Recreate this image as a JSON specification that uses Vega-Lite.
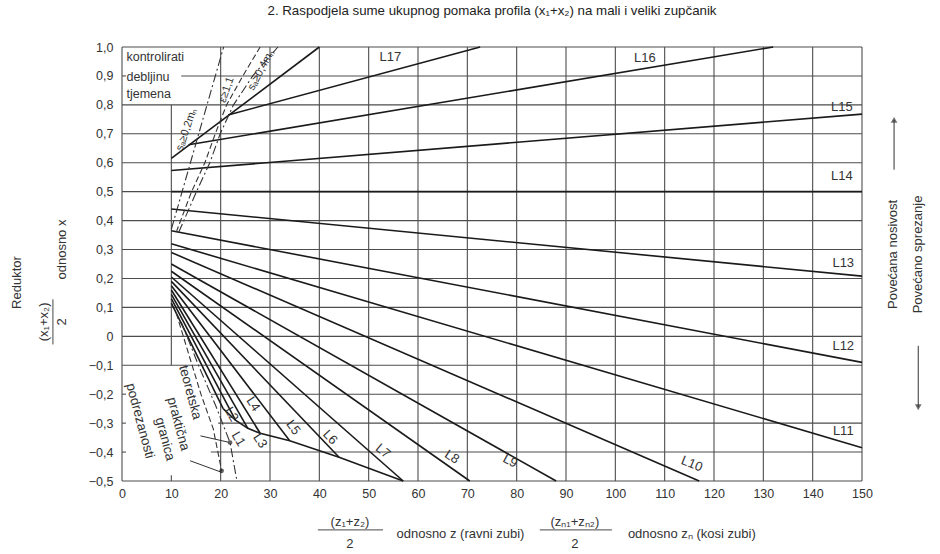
{
  "$schema": "https://vega.github.io/schema/vega-lite/v6.json",
  "width": 740,
  "height": 434,
  "autosize": {"type": "none"},
  "padding": {"left": 122, "top": 47, "right": 78, "bottom": 73},
  "background": "white",
  "config": {"view": {"stroke": null}, "text": {"font": "Liberation Sans", "color": "#333"}},
  "title": {"text": "2. Raspodjela sume ukupnog pomaka profila (x₁+x₂) na mali i veliki zupčanik", "font": "Liberation Sans", "fontSize": 13.3, "fontWeight": "normal", "color": "#222", "anchor": "middle", "offset": 24},
  "datasets": {
    "hgrid": [
      {"y": -0.5, "x": 0, "x2": 150},
      {"y": -0.4, "x": 18, "x2": 150}, {"y": -0.4, "x": 0, "x2": 0.8},
      {"y": -0.3, "x": 19.5, "x2": 150}, {"y": -0.3, "x": 0, "x2": 0.8},
      {"y": -0.2, "x": 18, "x2": 150}, {"y": -0.2, "x": 0, "x2": 0.8},
      {"y": -0.1, "x": 0, "x2": 150},
      {"y": 0, "x": 0, "x2": 150},
      {"y": 0.1, "x": 0, "x2": 150},
      {"y": 0.2, "x": 0, "x2": 150},
      {"y": 0.3, "x": 0, "x2": 150},
      {"y": 0.4, "x": 0, "x2": 150},
      {"y": 0.5, "x": 0, "x2": 150},
      {"y": 0.6, "x": 0, "x2": 150},
      {"y": 0.7, "x": 0, "x2": 150},
      {"y": 0.8, "x": 0, "x2": 150},
      {"y": 0.9, "x": 12, "x2": 150}, {"y": 0.9, "x": 0, "x2": 0.8},
      {"y": 1.0, "x": 0, "x2": 150}
    ],
    "vgrid": [
      {"x": 0, "y": -0.5, "y2": 1},
      {"x": 10, "y": -0.1, "y2": 0.8}, {"x": 10, "y": -0.5, "y2": -0.48},
      {"x": 20, "y": -0.5, "y2": 1},
      {"x": 30, "y": -0.5, "y2": 1},
      {"x": 40, "y": -0.5, "y2": 1},
      {"x": 50, "y": -0.5, "y2": 1},
      {"x": 60, "y": -0.5, "y2": 1},
      {"x": 70, "y": -0.5, "y2": 1},
      {"x": 80, "y": -0.5, "y2": 1},
      {"x": 90, "y": -0.5, "y2": 1},
      {"x": 100, "y": -0.5, "y2": 1},
      {"x": 110, "y": -0.5, "y2": 1},
      {"x": 120, "y": -0.5, "y2": 1},
      {"x": 130, "y": -0.5, "y2": 1},
      {"x": 140, "y": -0.5, "y2": 1},
      {"x": 150, "y": -0.5, "y2": 1}
    ],
    "solid": [
      {"id": "L1", "x": 10, "y": 0.115}, {"id": "L1", "x": 20.5, "y": -0.25},
      {"id": "L2", "x": 10, "y": 0.13}, {"id": "L2", "x": 23, "y": -0.29},
      {"id": "L3", "x": 10, "y": 0.145}, {"id": "L3", "x": 25.5, "y": -0.318},
      {"id": "L4", "x": 10, "y": 0.16}, {"id": "L4", "x": 28, "y": -0.335},
      {"id": "L5", "x": 10, "y": 0.175}, {"id": "L5", "x": 34, "y": -0.361},
      {"id": "L6", "x": 10, "y": 0.19}, {"id": "L6", "x": 44, "y": -0.418},
      {"id": "L7", "x": 10, "y": 0.205}, {"id": "L7", "x": 57, "y": -0.5},
      {"id": "L8", "x": 10, "y": 0.225}, {"id": "L8", "x": 70.5, "y": -0.5},
      {"id": "L9", "x": 10, "y": 0.25}, {"id": "L9", "x": 88, "y": -0.5},
      {"id": "L10", "x": 10, "y": 0.29}, {"id": "L10", "x": 117, "y": -0.5},
      {"id": "L11", "x": 10, "y": 0.32}, {"id": "L11", "x": 150, "y": -0.385},
      {"id": "L12", "x": 10, "y": 0.365}, {"id": "L12", "x": 150, "y": -0.09},
      {"id": "L13", "x": 10, "y": 0.44}, {"id": "L13", "x": 150, "y": 0.208},
      {"id": "L14", "x": 10, "y": 0.5}, {"id": "L14", "x": 150, "y": 0.5},
      {"id": "L15", "x": 10, "y": 0.573}, {"id": "L15", "x": 150, "y": 0.768},
      {"id": "L16", "x": 13.5, "y": 0.662}, {"id": "L16", "x": 132, "y": 1.0},
      {"id": "L17", "x": 21.5, "y": 0.765}, {"id": "L17", "x": 72.6, "y": 1.0},
      {"id": "K", "x": 10, "y": 0.615}, {"id": "K", "x": 40, "y": 1.0},
      {"id": "E", "x": 20.5, "y": -0.25}, {"id": "E", "x": 23, "y": -0.29},
      {"id": "E", "x": 25.5, "y": -0.318}, {"id": "E", "x": 28, "y": -0.335},
      {"id": "E", "x": 34, "y": -0.361}, {"id": "E", "x": 44, "y": -0.418},
      {"id": "E", "x": 57, "y": -0.5}
    ],
    "dashed": [
      {"id": "eps", "x": 11, "y": 0.36}, {"id": "eps", "x": 14.1, "y": 0.5},
      {"id": "eps", "x": 16.8, "y": 0.6}, {"id": "eps", "x": 18.9, "y": 0.7},
      {"id": "eps", "x": 21.2, "y": 0.8}, {"id": "eps", "x": 24.5, "y": 0.9},
      {"id": "eps", "x": 28, "y": 1.0},
      {"id": "teor", "x": 11, "y": 0.08}, {"id": "teor", "x": 13.5, "y": -0.06},
      {"id": "teor", "x": 16, "y": -0.2}, {"id": "teor", "x": 18.5, "y": -0.32},
      {"id": "teor", "x": 20.2, "y": -0.465}
    ],
    "dashdot": [
      {"id": "s02", "x": 10, "y": 0.37}, {"id": "s02", "x": 20.6, "y": 1.0},
      {"id": "s04", "x": 11.5, "y": 0.36}, {"id": "s04", "x": 15.1, "y": 0.5},
      {"id": "s04", "x": 17.8, "y": 0.6}, {"id": "s04", "x": 19.9, "y": 0.7},
      {"id": "s04", "x": 22.6, "y": 0.8}, {"id": "s04", "x": 26.5, "y": 0.9},
      {"id": "s04", "x": 31.6, "y": 1.0},
      {"id": "prakt", "x": 12, "y": 0.05}, {"id": "prakt", "x": 15.5, "y": -0.1},
      {"id": "prakt", "x": 19, "y": -0.24}, {"id": "prakt", "x": 21.9, "y": -0.367},
      {"id": "prakt", "x": 23.3, "y": -0.5}
    ],
    "leaders": [
      {"x": 15.9, "y": -0.344, "x2": 21.6, "y2": -0.366},
      {"x": 13.8, "y": -0.43, "x2": 20.2, "y2": -0.47}
    ],
    "dots": [
      {"x": 21.9, "y": -0.367},
      {"x": 20.2, "y": -0.465}
    ],
    "hbars": [
      {"x": 39.7, "x2": 52.9, "y": -0.669},
      {"x": 84.7, "x2": 99.3, "y": -0.669}
    ],
    "vbars": [
      {"x": -14, "y": -0.028, "y2": 0.128}
    ],
    "arrowUp": [{"x": 156.5, "y": 0.576, "y2": 0.748}],
    "arrowDown": [{"x": 161.4, "y": -0.033, "y2": -0.245}],
    "lineLabels": [
      {"label": "L17", "x": 54.4, "y": 0.967},
      {"label": "L16", "x": 106, "y": 0.961},
      {"label": "L15", "x": 145.9, "y": 0.794},
      {"label": "L14", "x": 145.9, "y": 0.553},
      {"label": "L13", "x": 146.2, "y": 0.254},
      {"label": "L12", "x": 146.2, "y": -0.033},
      {"label": "L11", "x": 146.2, "y": -0.327},
      {"label": "L10", "x": 115.5, "y": -0.441},
      {"label": "L9", "x": 78.7, "y": -0.431},
      {"label": "L8", "x": 66.9, "y": -0.417},
      {"label": "L7", "x": 52.9, "y": -0.397},
      {"label": "L6", "x": 42.2, "y": -0.349},
      {"label": "L5", "x": 34.7, "y": -0.315},
      {"label": "L4", "x": 26.6, "y": -0.234},
      {"label": "L3", "x": 28, "y": -0.361},
      {"label": "L2", "x": 22.2, "y": -0.269},
      {"label": "L1", "x": 23.6, "y": -0.355}
    ],
    "boxText": [
      {"label": "kontrolirati", "x": 0.9, "y": 0.967},
      {"label": "debljinu", "x": 0.9, "y": 0.898},
      {"label": "tjemena", "x": 0.9, "y": 0.838}
    ],
    "flatText": [
      {"label": "(z₁+z₂)", "x": 46.2, "y": -0.642},
      {"label": "2", "x": 46.2, "y": -0.717},
      {"label": "odnosno z (ravni zubi)", "x": 68.6, "y": -0.683},
      {"label": "(zₙ₁+zₙ₂)", "x": 91.8, "y": -0.642},
      {"label": "2", "x": 91.8, "y": -0.717},
      {"label": "odnosno zₙ (kosi zubi)", "x": 115.5, "y": -0.683}
    ],
    "vertText": [
      {"label": "Reduktor", "x": -21.3, "y": 0.186},
      {"label": "(x₁+x₂)", "x": -15.8, "y": 0.05},
      {"label": "2", "x": -12.2, "y": 0.05},
      {"label": "odnosno x", "x": -12.2, "y": 0.3},
      {"label": "Povećana nosivost", "x": 156.3, "y": 0.283},
      {"label": "Povećano sprezanje", "x": 161.4, "y": 0.283}
    ],
    "limitText": [
      {"label": "sₐ≥0,2mₙ", "x": 13.1, "y": 0.714},
      {"label": "ε≥1,1", "x": 21.2, "y": 0.852},
      {"label": "sₐ≥0,4mₙ", "x": 28.2, "y": 0.92}
    ],
    "underText": [
      {"label": "teoretska", "x": 13.8, "y": -0.194},
      {"label": "praktična", "x": 11.4, "y": -0.303},
      {"label": "granica", "x": 8.7, "y": -0.355},
      {"label": "podrezanosti", "x": 3.65, "y": -0.292}
    ]
  },
  "encoding": {
    "x": {"field": "x", "type": "quantitative",
      "scale": {"domain": [0, 150], "nice": false, "zero": false},
      "axis": {"values": [0,10,20,30,40,50,60,70,80,90,100,110,120,130,140,150], "title": null, "ticks": false, "domain": false, "grid": false, "labelFlush": false, "labelPadding": 6, "labelFontSize": 12.5, "labelFont": "Liberation Sans", "labelColor": "#333"}},
    "y": {"field": "y", "type": "quantitative",
      "scale": {"domain": [-0.5, 1.0], "nice": false, "zero": false},
      "axis": {"values": [-0.5,-0.4,-0.3,-0.2,-0.1,0,0.1,0.2,0.3,0.4,0.5,0.6,0.7,0.8,0.9,1.0], "title": null, "ticks": false, "domain": false, "grid": false, "labelFlush": false, "labelPadding": 9, "labelFontSize": 12.5, "labelFont": "Liberation Sans", "labelColor": "#333",
        "labelExpr": "datum.value == 0 ? '0' : replace(format(datum.value, '.1f'), '.', ',')"}}
  },
  "layer": [
    {"data": {"name": "hgrid"}, "mark": {"type": "rule", "stroke": "#4d4d4d", "strokeWidth": 1.1}, "encoding": {"x2": {"field": "x2"}}},
    {"data": {"name": "vgrid"}, "mark": {"type": "rule", "stroke": "#4d4d4d", "strokeWidth": 1.1}, "encoding": {"y2": {"field": "y2"}}},
    {"data": {"name": "solid"}, "mark": {"type": "line", "stroke": "#1a1a1a", "strokeWidth": 1.6}, "encoding": {"detail": {"field": "id"}}},
    {"data": {"name": "dashed"}, "mark": {"type": "line", "stroke": "#333", "strokeWidth": 1.1, "strokeDash": [6, 3]}, "encoding": {"detail": {"field": "id"}}},
    {"data": {"name": "dashdot"}, "mark": {"type": "line", "stroke": "#333", "strokeWidth": 1.1, "strokeDash": [9, 3, 2, 3]}, "encoding": {"detail": {"field": "id"}}},
    {"data": {"name": "leaders"}, "mark": {"type": "rule", "stroke": "#333", "strokeWidth": 1}, "encoding": {"x2": {"field": "x2"}, "y2": {"field": "y2"}}},
    {"data": {"name": "dots"}, "mark": {"type": "point", "filled": true, "color": "#222", "size": 22}, "encoding": {}},
    {"data": {"name": "hbars"}, "mark": {"type": "rule", "stroke": "#333", "strokeWidth": 0.9}, "encoding": {"x2": {"field": "x2"}}},
    {"data": {"name": "vbars"}, "mark": {"type": "rule", "stroke": "#333", "strokeWidth": 0.9}, "encoding": {"y2": {"field": "y2"}}},
    {"data": {"name": "arrowUp"}, "mark": {"type": "rule", "stroke": "#333", "strokeWidth": 1}, "encoding": {"y2": {"field": "y2"}}},
    {"data": {"name": "arrowUp"}, "mark": {"type": "point", "shape": "triangle-up", "filled": true, "color": "#333", "size": 45}, "encoding": {"y": {"field": "y2", "type": "quantitative"}}},
    {"data": {"name": "arrowDown"}, "mark": {"type": "rule", "stroke": "#333", "strokeWidth": 1}, "encoding": {"y2": {"field": "y2"}}},
    {"data": {"name": "arrowDown"}, "mark": {"type": "point", "shape": "triangle-down", "filled": true, "color": "#333", "size": 45}, "encoding": {"y": {"field": "y2", "type": "quantitative"}}},
    {"data": {"name": "lineLabels"}, "transform": [{"filter": {"field": "label", "oneOf": ["L11","L12","L13","L14","L15","L16","L17"]}}],
      "mark": {"type": "text", "fontSize": 13, "align": "center", "baseline": "middle", "font": "Liberation Sans", "color": "#333"}, "encoding": {"text": {"field": "label"}}},
    {"data": {"name": "lineLabels"}, "transform": [{"filter": {"field": "label", "oneOf": ["L10"]}}],
      "mark": {"type": "text", "fontSize": 13, "angle": 22, "align": "center", "baseline": "middle", "font": "Liberation Sans", "color": "#333"}, "encoding": {"text": {"field": "label"}}},
    {"data": {"name": "lineLabels"}, "transform": [{"filter": {"field": "label", "oneOf": ["L9"]}}],
      "mark": {"type": "text", "fontSize": 13, "angle": 28, "align": "center", "baseline": "middle", "font": "Liberation Sans", "color": "#333"}, "encoding": {"text": {"field": "label"}}},
    {"data": {"name": "lineLabels"}, "transform": [{"filter": {"field": "label", "oneOf": ["L8"]}}],
      "mark": {"type": "text", "fontSize": 13, "angle": 33, "align": "center", "baseline": "middle", "font": "Liberation Sans", "color": "#333"}, "encoding": {"text": {"field": "label"}}},
    {"data": {"name": "lineLabels"}, "transform": [{"filter": {"field": "label", "oneOf": ["L7"]}}],
      "mark": {"type": "text", "fontSize": 13, "angle": 40, "align": "center", "baseline": "middle", "font": "Liberation Sans", "color": "#333"}, "encoding": {"text": {"field": "label"}}},
    {"data": {"name": "lineLabels"}, "transform": [{"filter": {"field": "label", "oneOf": ["L6"]}}],
      "mark": {"type": "text", "fontSize": 13, "angle": 47, "align": "center", "baseline": "middle", "font": "Liberation Sans", "color": "#333"}, "encoding": {"text": {"field": "label"}}},
    {"data": {"name": "lineLabels"}, "transform": [{"filter": {"field": "label", "oneOf": ["L5"]}}],
      "mark": {"type": "text", "fontSize": 13, "angle": 53, "align": "center", "baseline": "middle", "font": "Liberation Sans", "color": "#333"}, "encoding": {"text": {"field": "label"}}},
    {"data": {"name": "lineLabels"}, "transform": [{"filter": {"field": "label", "oneOf": ["L4", "L3"]}}],
      "mark": {"type": "text", "fontSize": 13, "angle": 57, "align": "center", "baseline": "middle", "font": "Liberation Sans", "color": "#333"}, "encoding": {"text": {"field": "label"}}},
    {"data": {"name": "lineLabels"}, "transform": [{"filter": {"field": "label", "oneOf": ["L2", "L1"]}}],
      "mark": {"type": "text", "fontSize": 13, "angle": 60, "align": "center", "baseline": "middle", "font": "Liberation Sans", "color": "#333"}, "encoding": {"text": {"field": "label"}}},
    {"data": {"name": "boxText"}, "mark": {"type": "text", "fontSize": 12.5, "align": "left", "baseline": "middle", "font": "Liberation Sans", "color": "#333"}, "encoding": {"text": {"field": "label"}}},
    {"data": {"name": "flatText"}, "mark": {"type": "text", "fontSize": 13, "align": "center", "baseline": "middle", "font": "Liberation Sans", "color": "#333"}, "encoding": {"text": {"field": "label"}}},
    {"data": {"name": "vertText"}, "mark": {"type": "text", "fontSize": 13, "angle": 270, "align": "center", "baseline": "middle", "font": "Liberation Sans", "color": "#333"}, "encoding": {"text": {"field": "label"}}},
    {"data": {"name": "limitText"}, "transform": [{"filter": {"field": "label", "oneOf": ["sₐ≥0,2mₙ", "ε≥1,1"]}}],
      "mark": {"type": "text", "fontSize": 11, "angle": 289, "align": "center", "baseline": "middle", "font": "Liberation Sans", "color": "#333"}, "encoding": {"text": {"field": "label"}}},
    {"data": {"name": "limitText"}, "transform": [{"filter": {"field": "label", "oneOf": ["sₐ≥0,4mₙ"]}}],
      "mark": {"type": "text", "fontSize": 11, "angle": 298, "align": "center", "baseline": "middle", "font": "Liberation Sans", "color": "#333"}, "encoding": {"text": {"field": "label"}}},
    {"data": {"name": "underText"}, "mark": {"type": "text", "fontSize": 13.5, "angle": 75, "align": "center", "baseline": "middle", "font": "Liberation Sans", "color": "#333"}, "encoding": {"text": {"field": "label"}}}
  ]
}
